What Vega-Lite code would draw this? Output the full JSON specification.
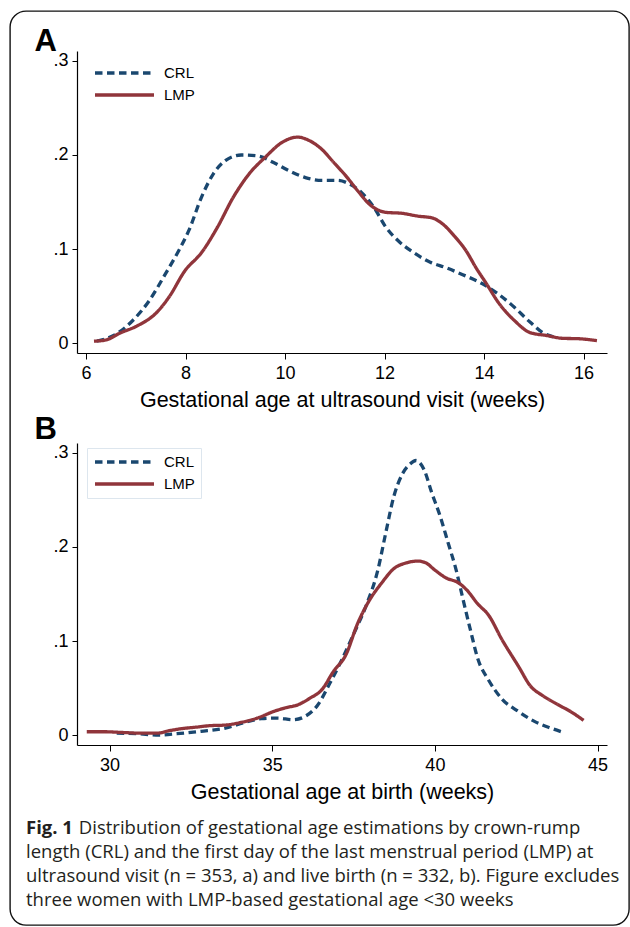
{
  "$schema": "https://vega.github.io/schema/vega-lite/v6.json",
  "width": 619,
  "height": 914,
  "autosize": {"type": "none"},
  "padding": {"left": 10, "top": 11, "right": 1, "bottom": 2},
  "background": "white",
  "config": {
    "view": {"stroke": "#111111", "strokeWidth": 1.4, "cornerRadius": 16, "fill": "white"},
    "axis": {
      "grid": false, "domainColor": "#000000", "domainWidth": 1.2, "tickColor": "#000000", "tickWidth": 1,
      "labelFont": "Liberation Sans", "labelFontSize": 18, "labelColor": "#000000",
      "titleFont": "Liberation Sans", "titleFontSize": 21.5, "titleFontWeight": "normal", "titleColor": "#000000",
      "labelFlush": false, "labelOverlap": false
    },
    "legend": {
      "symbolType": "stroke", "symbolSize": 3481, "symbolStrokeWidth": 3.5, "clipHeight": 16, "rowPadding": 6,
      "labelOffset": 8, "labelFont": "Liberation Sans", "labelFontSize": 15, "labelColor": "#000000", "padding": 6
    }
  },
  "datasets": {
    "a": [
      {"week": 6.22, "density": 0.002, "series": "CRL"},
      {"week": 6.62, "density": 0.010, "series": "CRL"},
      {"week": 6.94, "density": 0.024, "series": "CRL"},
      {"week": 7.27, "density": 0.045, "series": "CRL"},
      {"week": 7.59, "density": 0.073, "series": "CRL"},
      {"week": 7.83, "density": 0.095, "series": "CRL"},
      {"week": 8.07, "density": 0.120, "series": "CRL"},
      {"week": 8.32, "density": 0.155, "series": "CRL"},
      {"week": 8.56, "density": 0.180, "series": "CRL"},
      {"week": 8.80, "density": 0.194, "series": "CRL"},
      {"week": 9.12, "density": 0.200, "series": "CRL"},
      {"week": 9.45, "density": 0.199, "series": "CRL"},
      {"week": 9.77, "density": 0.192, "series": "CRL"},
      {"week": 10.09, "density": 0.183, "series": "CRL"},
      {"week": 10.41, "density": 0.176, "series": "CRL"},
      {"week": 10.74, "density": 0.173, "series": "CRL"},
      {"week": 11.06, "density": 0.173, "series": "CRL"},
      {"week": 11.30, "density": 0.169, "series": "CRL"},
      {"week": 11.54, "density": 0.160, "series": "CRL"},
      {"week": 11.79, "density": 0.144, "series": "CRL"},
      {"week": 12.03, "density": 0.123, "series": "CRL"},
      {"week": 12.27, "density": 0.109, "series": "CRL"},
      {"week": 12.59, "density": 0.096, "series": "CRL"},
      {"week": 12.92, "density": 0.086, "series": "CRL"},
      {"week": 13.24, "density": 0.080, "series": "CRL"},
      {"week": 13.56, "density": 0.073, "series": "CRL"},
      {"week": 13.97, "density": 0.063, "series": "CRL"},
      {"week": 14.29, "density": 0.052, "series": "CRL"},
      {"week": 14.61, "density": 0.038, "series": "CRL"},
      {"week": 14.93, "density": 0.022, "series": "CRL"},
      {"week": 15.18, "density": 0.011, "series": "CRL"},
      {"week": 15.45, "density": 0.006, "series": "CRL"},
      {"week": 6.16, "density": 0.002, "series": "LMP"},
      {"week": 6.38, "density": 0.003, "series": "LMP"},
      {"week": 6.70, "density": 0.011, "series": "LMP"},
      {"week": 7.02, "density": 0.018, "series": "LMP"},
      {"week": 7.43, "density": 0.033, "series": "LMP"},
      {"week": 7.67, "density": 0.049, "series": "LMP"},
      {"week": 7.99, "density": 0.077, "series": "LMP"},
      {"week": 8.32, "density": 0.096, "series": "LMP"},
      {"week": 8.64, "density": 0.123, "series": "LMP"},
      {"week": 8.96, "density": 0.155, "series": "LMP"},
      {"week": 9.28, "density": 0.180, "series": "LMP"},
      {"week": 9.61, "density": 0.198, "series": "LMP"},
      {"week": 9.93, "density": 0.213, "series": "LMP"},
      {"week": 10.25, "density": 0.219, "series": "LMP"},
      {"week": 10.50, "density": 0.215, "series": "LMP"},
      {"week": 10.74, "density": 0.206, "series": "LMP"},
      {"week": 10.98, "density": 0.192, "series": "LMP"},
      {"week": 11.22, "density": 0.178, "series": "LMP"},
      {"week": 11.46, "density": 0.162, "series": "LMP"},
      {"week": 11.71, "density": 0.147, "series": "LMP"},
      {"week": 12.03, "density": 0.139, "series": "LMP"},
      {"week": 12.35, "density": 0.138, "series": "LMP"},
      {"week": 12.67, "density": 0.135, "series": "LMP"},
      {"week": 12.96, "density": 0.133, "series": "LMP"},
      {"week": 13.16, "density": 0.127, "series": "LMP"},
      {"week": 13.40, "density": 0.114, "series": "LMP"},
      {"week": 13.64, "density": 0.098, "series": "LMP"},
      {"week": 13.84, "density": 0.080, "series": "LMP"},
      {"week": 14.05, "density": 0.063, "series": "LMP"},
      {"week": 14.29, "density": 0.043, "series": "LMP"},
      {"week": 14.61, "density": 0.024, "series": "LMP"},
      {"week": 14.93, "density": 0.011, "series": "LMP"},
      {"week": 15.26, "density": 0.008, "series": "LMP"},
      {"week": 15.58, "density": 0.005, "series": "LMP"},
      {"week": 15.90, "density": 0.0046, "series": "LMP"},
      {"week": 16.27, "density": 0.0025, "series": "LMP"}
    ],
    "b": [
      {"week": 30.22, "density": 0.002, "series": "CRL"},
      {"week": 30.84, "density": 0.0014, "series": "CRL"},
      {"week": 31.52, "density": 0.0, "series": "CRL"},
      {"week": 32.07, "density": 0.0014, "series": "CRL"},
      {"week": 32.81, "density": 0.004, "series": "CRL"},
      {"week": 33.56, "density": 0.0074, "series": "CRL"},
      {"week": 34.17, "density": 0.0135, "series": "CRL"},
      {"week": 34.67, "density": 0.0174, "series": "CRL"},
      {"week": 35.16, "density": 0.018, "series": "CRL"},
      {"week": 35.65, "density": 0.0163, "series": "CRL"},
      {"week": 36.02, "density": 0.020, "series": "CRL"},
      {"week": 36.40, "density": 0.032, "series": "CRL"},
      {"week": 36.77, "density": 0.055, "series": "CRL"},
      {"week": 37.14, "density": 0.080, "series": "CRL"},
      {"week": 37.51, "density": 0.108, "series": "CRL"},
      {"week": 37.88, "density": 0.137, "series": "CRL"},
      {"week": 38.25, "density": 0.176, "series": "CRL"},
      {"week": 38.49, "density": 0.215, "series": "CRL"},
      {"week": 38.74, "density": 0.254, "series": "CRL"},
      {"week": 38.99, "density": 0.277, "series": "CRL"},
      {"week": 39.23, "density": 0.288, "series": "CRL"},
      {"week": 39.42, "density": 0.292, "series": "CRL"},
      {"week": 39.67, "density": 0.282, "series": "CRL"},
      {"week": 39.91, "density": 0.257, "series": "CRL"},
      {"week": 40.16, "density": 0.233, "series": "CRL"},
      {"week": 40.41, "density": 0.204, "series": "CRL"},
      {"week": 40.65, "density": 0.176, "series": "CRL"},
      {"week": 40.84, "density": 0.148, "series": "CRL"},
      {"week": 41.09, "density": 0.112, "series": "CRL"},
      {"week": 41.33, "density": 0.080, "series": "CRL"},
      {"week": 41.64, "density": 0.059, "series": "CRL"},
      {"week": 42.07, "density": 0.038, "series": "CRL"},
      {"week": 42.57, "density": 0.025, "series": "CRL"},
      {"week": 43.06, "density": 0.0145, "series": "CRL"},
      {"week": 43.56, "density": 0.0074, "series": "CRL"},
      {"week": 43.93, "density": 0.003, "series": "CRL"},
      {"week": 29.30, "density": 0.0035, "series": "LMP"},
      {"week": 29.85, "density": 0.0035, "series": "LMP"},
      {"week": 30.35, "density": 0.0028, "series": "LMP"},
      {"week": 30.96, "density": 0.002, "series": "LMP"},
      {"week": 31.46, "density": 0.002, "series": "LMP"},
      {"week": 31.83, "density": 0.0046, "series": "LMP"},
      {"week": 32.20, "density": 0.0067, "series": "LMP"},
      {"week": 32.69, "density": 0.0085, "series": "LMP"},
      {"week": 33.06, "density": 0.0099, "series": "LMP"},
      {"week": 33.56, "density": 0.0106, "series": "LMP"},
      {"week": 34.05, "density": 0.0135, "series": "LMP"},
      {"week": 34.54, "density": 0.018, "series": "LMP"},
      {"week": 35.04, "density": 0.025, "series": "LMP"},
      {"week": 35.41, "density": 0.029, "series": "LMP"},
      {"week": 35.78, "density": 0.032, "series": "LMP"},
      {"week": 36.15, "density": 0.039, "series": "LMP"},
      {"week": 36.52, "density": 0.048, "series": "LMP"},
      {"week": 36.89, "density": 0.068, "series": "LMP"},
      {"week": 37.26, "density": 0.085, "series": "LMP"},
      {"week": 37.63, "density": 0.119, "series": "LMP"},
      {"week": 38.00, "density": 0.144, "series": "LMP"},
      {"week": 38.37, "density": 0.162, "series": "LMP"},
      {"week": 38.74, "density": 0.177, "series": "LMP"},
      {"week": 39.11, "density": 0.183, "series": "LMP"},
      {"week": 39.48, "density": 0.185, "series": "LMP"},
      {"week": 39.73, "density": 0.183, "series": "LMP"},
      {"week": 39.98, "density": 0.176, "series": "LMP"},
      {"week": 40.35, "density": 0.167, "series": "LMP"},
      {"week": 40.72, "density": 0.162, "series": "LMP"},
      {"week": 40.96, "density": 0.155, "series": "LMP"},
      {"week": 41.33, "density": 0.139, "series": "LMP"},
      {"week": 41.64, "density": 0.128, "series": "LMP"},
      {"week": 42.07, "density": 0.101, "series": "LMP"},
      {"week": 42.57, "density": 0.073, "series": "LMP"},
      {"week": 42.94, "density": 0.052, "series": "LMP"},
      {"week": 43.31, "density": 0.042, "series": "LMP"},
      {"week": 43.80, "density": 0.032, "series": "LMP"},
      {"week": 44.17, "density": 0.025, "series": "LMP"},
      {"week": 44.57, "density": 0.0156, "series": "LMP"}
    ]
  },
  "title": {
    "text": "Fig. 1",
    "subtitle": [
      "\u200b\u00a0\u00a0\u00a0\u00a0\u00a0\u00a0\u00a0\u00a0\u00a0\u00a0\u00a0Distribution of gestational age estimations by crown-rump",
      "length (CRL) and the first day of the last menstrual period (LMP) at",
      "ultrasound visit (n = 353, a) and live birth (n = 332, b). Figure excludes",
      "three women with LMP-based gestational age <30 weeks"
    ],
    "orient": "bottom", "anchor": "start", "frame": "group", "offset": -106, "dx": 16,
    "font": "Open Sans", "fontSize": 18.5, "fontWeight": "bold", "color": "#231f20",
    "subtitleFont": "Open Sans", "subtitleFontSize": 18.5, "subtitleColor": "#231f20",
    "subtitleLineHeight": 24, "subtitlePadding": -18.5
  },
  "layer": [
    {
      "data": {"name": "a"},
      "mark": {"type": "line", "strokeWidth": 3.3, "interpolate": "monotone"},
      "encoding": {
        "x": {
          "field": "week", "type": "quantitative",
          "scale": {"domain": [5.819, 16.472], "range": [67, 597], "nice": false, "zero": false},
          "axis": {"orient": "bottom", "offset": -572, "values": [6, 8, 10, 12, 14, 16], "tickSize": 6, "labelPadding": 5,
                   "title": "Gestational age at ultrasound visit (weeks)", "titlePadding": 7}
        },
        "y": {
          "field": "density", "type": "quantitative",
          "scale": {"domain": [-0.0106, 0.3106], "range": [342, 40], "nice": false, "zero": false},
          "axis": {"orient": "left", "offset": -67, "values": [0, 0.1, 0.2, 0.3], "tickSize": 5, "labelPadding": 4,
                   "labelExpr": "datum.value == 0 ? '0' : substring(format(datum.value, '.1f'), 1)",
                   "title": "A", "titleAngle": 0, "titleX": -43, "titleY": 39, "titleAlign": "left", "titleBaseline": "alphabetic",
                   "titleFontSize": 31, "titleFontWeight": "bold"}
        },
        "color": {
          "field": "series", "type": "nominal",
          "scale": {"domain": ["CRL", "LMP"], "range": ["#1a476f", "#90353b"]},
          "legend": {"orient": "none", "legendX": 77, "legendY": 48, "title": null}
        },
        "strokeDash": {
          "field": "series", "type": "nominal",
          "scale": {"domain": ["CRL", "LMP"], "range": [[7.5, 4.5], [1, 0]]},
          "legend": {"orient": "none", "legendX": 77, "legendY": 48, "title": null}
        }
      }
    },
    {
      "data": {"name": "b"},
      "mark": {"type": "line", "strokeWidth": 3.3, "interpolate": "monotone"},
      "encoding": {
        "x": {
          "field": "week", "type": "quantitative",
          "scale": {"domain": [29.0, 45.29], "range": [67, 597], "nice": false, "zero": false},
          "axis": {"orient": "bottom", "offset": -180, "values": [30, 35, 40, 45], "tickSize": 6, "labelPadding": 5,
                   "title": "Gestational age at birth (weeks)", "titlePadding": 7}
        },
        "y": {
          "field": "density", "type": "quantitative",
          "scale": {"domain": [-0.0106, 0.3106], "range": [734, 432], "nice": false, "zero": false},
          "axis": {"orient": "left", "offset": -67, "values": [0, 0.1, 0.2, 0.3], "tickSize": 5, "labelPadding": 4,
                   "labelExpr": "datum.value == 0 ? '0' : substring(format(datum.value, '.1f'), 1)",
                   "title": "B", "titleAngle": 0, "titleX": -43, "titleY": 427, "titleAlign": "left", "titleBaseline": "alphabetic",
                   "titleFontSize": 31, "titleFontWeight": "bold"}
        },
        "color": {
          "field": "series", "type": "nominal",
          "scale": {"domain": ["CRL", "LMP"], "range": ["#1a476f", "#90353b"]},
          "legend": {"orient": "none", "legendX": 77, "legendY": 437, "title": null, "strokeColor": "#dde6ee"}
        },
        "strokeDash": {
          "field": "series", "type": "nominal",
          "scale": {"domain": ["CRL", "LMP"], "range": [[7.5, 4.5], [1, 0]]},
          "legend": {"orient": "none", "legendX": 77, "legendY": 437, "title": null, "strokeColor": "#dde6ee"}
        }
      }
    }
  ],
  "resolve": {
    "scale": {"x": "independent", "y": "independent", "color": "independent", "strokeDash": "independent"},
    "axis": {"x": "independent", "y": "independent"},
    "legend": {"color": "independent", "strokeDash": "independent"}
  }
}
